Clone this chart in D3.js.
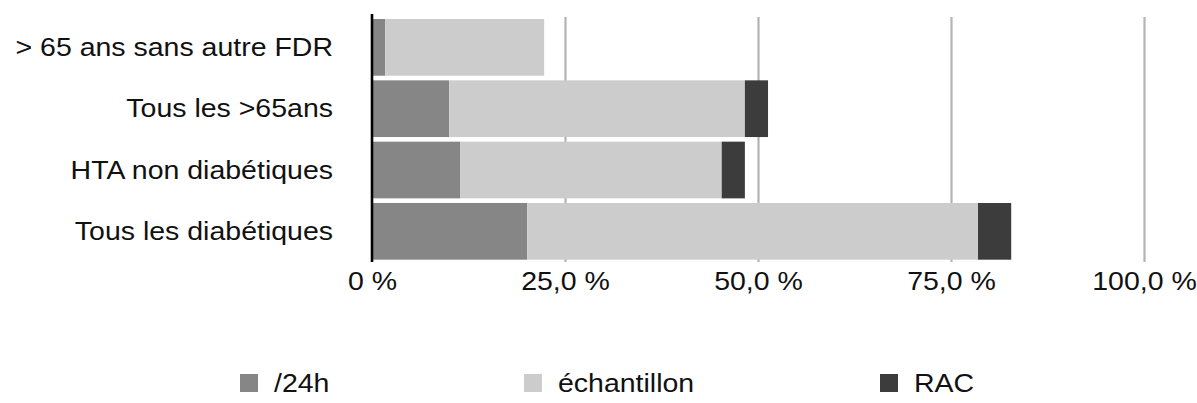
<!DOCTYPE html>
<html>
<head>
<meta charset="utf-8">
<script src="https://cdn.jsdelivr.net/npm/d3@7"></script>
<style>
  html, body { margin: 0; padding: 0; background: #fff; }
  svg { display: block; }
  text { font-family: "Liberation Sans", Arial, Helvetica, sans-serif; fill: #111; }
</style>
</head>
<body>
<svg id="chart" width="1197" height="403"></svg>
<script>
// ---- data ----
const categories = ["> 65 ans sans autre FDR", "Tous les >65ans", "HTA non diabétiques", "Tous les diabétiques"];
const seriesNames = ["/24h", "échantillon", "RAC"];
const values24h = [1.7, 10.0, 11.4, 20.1];
const valuesEchantillon = [20.6, 38.3, 33.9, 58.4];
const valuesRAC = [0, 3.0, 3.0, 4.3];
const tickValues = [0, 25, 50, 75, 100];
const tickLabels = ["0 %", "25,0 %", "50,0 %", "75,0 %", "100,0 %"];
const colors = ["#858685", "#cbcccb", "#3b3c3b"];

// ---- layout ----
const SX = 1.14;          // horizontal stretch of the glyphs
const FS = 25;
const svg = d3.select("#chart");
const x = d3.scaleLinear().domain([0, 100]).range([372, 1144]);
const y = d3.scaleBand().domain(categories).range([16.7, 262]).paddingInner(0.0755).paddingOuter(0.0378);

const table = categories.map((c, i) => ({
  cat: c, "/24h": values24h[i], "échantillon": valuesEchantillon[i], "RAC": valuesRAC[i]
}));
const stacked = d3.stack().keys(seriesNames)(table);

// gridlines + tick labels through axisBottom
const xAxis = d3.axisBottom(x)
  .tickValues(tickValues)
  .tickFormat((d, i) => tickLabels[i])
  .tickSizeInner(-(262 - 17))
  .tickSizeOuter(0);
const gx = svg.append("g").attr("transform", "translate(0,262)").call(xAxis);
gx.select(".domain").remove();
gx.selectAll(".tick line").attr("stroke", "#b3b3b3").attr("stroke-width", 2.2);
gx.selectAll(".tick").filter(d => d === 0).select("line").remove();
gx.selectAll(".tick text")
  .attr("y", null).attr("dy", null)
  .attr("font-size", FS)
  .attr("text-anchor", "middle")
  .attr("transform", `translate(0,28) scale(${SX},1)`)
  .style("font-family", "'Liberation Sans', Arial, sans-serif")
  .attr("fill", "#111");

// bars
svg.append("g").selectAll("g")
  .data(stacked)
  .join("g")
  .attr("fill", (d, i) => colors[i])
  .selectAll("rect")
  .data(d => d)
  .join("rect")
  .attr("x", d => x(d[0]))
  .attr("y", d => y(d.data.cat))
  .attr("width", d => Math.max(0, x(d[1]) - x(d[0])))
  .attr("height", y.bandwidth());

// category axis
const yAxis = d3.axisLeft(y).tickSize(0).tickPadding(0);
const gy = svg.append("g").attr("transform", `translate(${x(0)},0)`).call(yAxis);
gy.select(".domain").attr("d", "M0,14V262").attr("stroke", "#000").attr("stroke-width", 2.6);
gy.selectAll(".tick text")
  .attr("x", null).attr("dy", null)
  .attr("font-size", FS)
  .attr("text-anchor", "end")
  .attr("transform", `translate(-39,8.5) scale(${SX},1)`)
  .style("font-family", "'Liberation Sans', Arial, sans-serif")
  .attr("fill", "#111");

// legend
const legendX = [240, 524, 880];
const leg = svg.append("g").selectAll("g")
  .data(seriesNames)
  .join("g")
  .attr("transform", (d, i) => `translate(${legendX[i]},0)`);
leg.append("rect").attr("x", 0).attr("y", 374).attr("width", 18).attr("height", 18)
  .attr("fill", (d, i) => colors[i]);
leg.append("text")
  .attr("transform", `translate(34,392) scale(${SX},1)`)
  .attr("font-size", FS)
  .text(d => d);
</script>
</body>
</html>
